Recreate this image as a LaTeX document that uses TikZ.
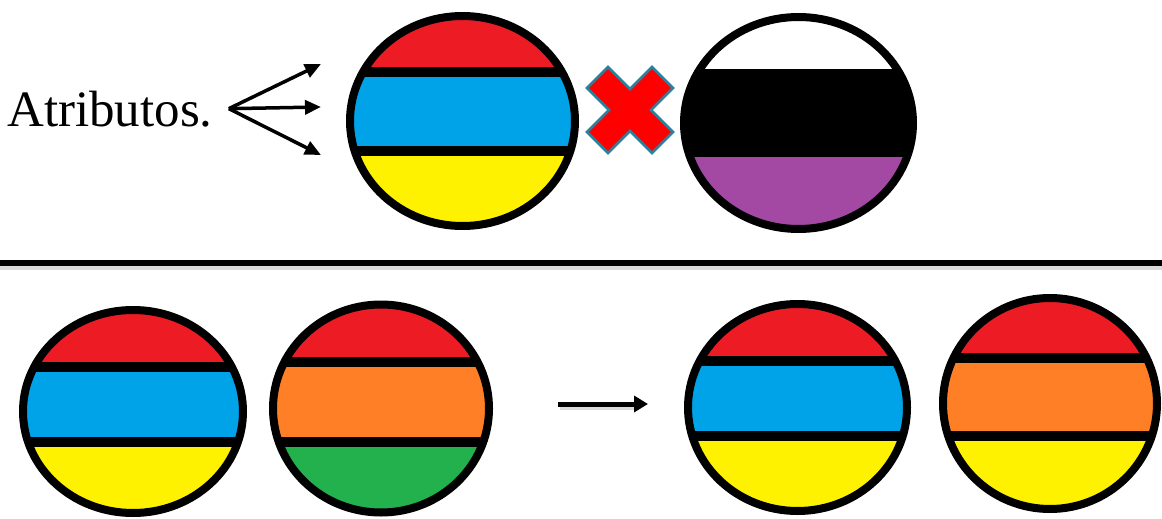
\documentclass[tikz,border=0pt]{standalone}
\usepackage{fontspec}
\setmainfont{Liberation Serif}
\usetikzlibrary{arrows.meta}

\definecolor{pred}{RGB}{237,28,36}
\definecolor{pblue}{RGB}{0,162,232}
\definecolor{pyellow}{RGB}{255,242,0}
\definecolor{porange}{RGB}{255,127,39}
\definecolor{pgreen}{RGB}{34,177,76}
\definecolor{ppurple}{RGB}{163,73,164}
\definecolor{xedge}{RGB}{40,130,160}

% striped ball: cx, cy, rx, ry, top, middle, bottom, stripe 1, stripe 2
\newcommand{\stripeball}[9]{%
  \begin{scope}
    \clip (#1,#2) ellipse ({#3} and {#4});
    \fill[#5] (#1-#3,#2-#4) rectangle (#1+#3,#8);
    \fill[#6] (#1-#3,#8) rectangle (#1+#3,#9);
    \fill[#7] (#1-#3,#9) rectangle (#1+#3,#2+#4);
    \fill[black] (#1-#3,#8-5) rectangle (#1+#3,#8+5);
    \fill[black] (#1-#3,#9-5) rectangle (#1+#3,#9+5);
  \end{scope}
  \draw[line width=8pt] (#1,#2) ellipse ({#3} and {#4});
}

\tikzset{
  attrarrow/.style={line width=3.5pt,-{Triangle[length=16pt,width=14pt]}},
  steparrow/.style={line width=5pt,-{Triangle[length=14pt,width=16pt]}},
  shadowline/.style={black!15,line width=4pt},
}

\begin{document}
\begin{tikzpicture}[x=1pt,y=-1pt]
\useasboundingbox (0,0) rectangle (1162,519);

% top row
\node[anchor=base west,inner sep=0pt,font=\fontsize{51}{60}\selectfont] (attr) at (7,126) {Atributos.};
\coordinate (fork) at ([xshift=16pt]attr.east);
\coordinate (a1) at (321,64);
\coordinate (a2) at (321,107);
\coordinate (a3) at (321,155);
\foreach \t in {a1,a2,a3}
  \draw[attrarrow] (fork) -- (\t);

\stripeball{462.5}{121}{112.5}{105}{pred}{pblue}{pyellow}{72.5}{150.5}
\stripeball{798.5}{123}{114.5}{106}{white}{black}{ppurple}{74}{152}

% cross
\filldraw[fill=red,draw=xedge,line width=2.5pt,line join=miter,shift={(630,110)}]
  (0,-21) -- (22,-43) -- (43,-22) -- (21,0) -- (43,22) -- (22,43) -- (0,21)
  -- (-22,43) -- (-43,22) -- (-21,0) -- (-43,-22) -- (-22,-43) -- cycle;

% separator
\draw[shadowline] (0,268) -- (1162,268);
\draw[line width=6pt] (0,263) -- (1162,263);

% bottom row
\stripeball{133}{411.5}{110}{101.5}{pred}{pblue}{pyellow}{366.5}{441.5}
\stripeball{381}{408.5}{108}{104}{pred}{porange}{pgreen}{362}{442}

\coordinate (from) at (558,404);
\coordinate (to) at (648,404);
\draw[shadowline] ([shift={(2,4)}]from) -- ([shift={(-10,4)}]to);
\draw[steparrow] (from) -- (to);

\stripeball{797.5}{407.5}{109.5}{103.5}{pred}{pblue}{pyellow}{360.5}{435.5}
\stripeball{1050}{403.5}{107}{105.5}{pred}{porange}{pyellow}{358}{436}
\end{tikzpicture}
\end{document}
